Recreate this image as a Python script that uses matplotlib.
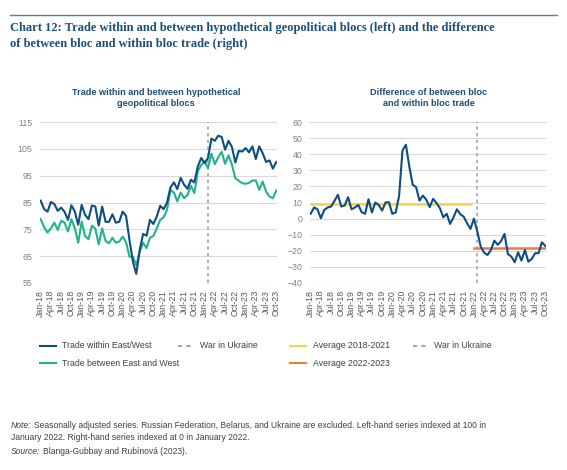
import matplotlib
matplotlib.use("Agg")
import matplotlib.pyplot as plt
from matplotlib.lines import Line2D
from matplotlib import font_manager
import numpy as np
import pandas as pd

plt.rcParams['font.family'] = ['Liberation Sans', 'DejaVu Sans']

months = pd.date_range("2018-01-01", "2023-10-01", freq="MS")
month_labels = [d.strftime("%b-%y") for d in months]

within = [85.7, 82.6, 81.6, 85.2, 84.4, 81.9, 83.1, 81.5, 78.5, 84.0,
          81.6, 76.7, 84.1, 80.4, 78.8, 83.9, 83.5, 76.4, 83.5, 77.8,
          77.8, 80.6, 77.5, 77.8, 81.6, 80.0, 71.0, 63.0, 58.4, 67.3,
          73.3, 72.6, 78.5, 77.0, 79.8, 83.8, 82.5, 85.0, 90.6, 92.5,
          90.0, 94.2, 91.6, 90.1, 93.5, 92.5, 98.4, 101.6, 99.7, 101.6,
          108.8, 108.0, 109.9, 109.4, 104.7, 108.0, 105.7, 99.9, 104.2, 104.0,
          105.3, 103.7, 105.9, 101.2, 105.9, 103.4, 100.1, 100.7, 97.6, 100.1]

between = [78.8, 75.8, 73.8, 75.4, 77.5, 74.8, 78.2, 77.5, 74.2, 78.8,
           75.4, 70.0, 77.9, 72.5, 71.3, 76.4, 75.3, 69.4, 75.4, 70.7,
           69.8, 71.9, 70.0, 70.4, 72.3, 70.2, 64.8, 64.8, 61.7, 66.7,
           70.0, 68.0, 71.9, 72.5, 75.4, 78.5, 79.5, 82.3, 89.7, 88.7,
           85.4, 88.7, 86.6, 87.8, 91.2, 88.5, 96.6, 99.0, 100.3, 97.8,
           103.2, 99.3, 101.9, 103.9, 99.4, 102.6, 99.1, 94.1, 93.1, 92.2,
           92.0, 92.3, 93.2, 93.2, 89.7, 92.8, 89.1, 87.2, 86.6, 89.5]

difference = [3.0, 6.9, 5.8, 0.2, 5.4, 6.9, 7.5, 11.0, 14.8, 7.5,
              8.1, 13.3, 5.8, 6.9, 8.5, 4.0, 3.0, 12.1, 3.8, 10.0,
              8.5, 5.0, 10.0, 10.2, 3.0, 3.8, 14.1, 42.4, 45.9, 32.4,
              21.0, 19.5, 11.2, 14.3, 11.7, 7.1, 12.3, 9.6, 6.5, 0.8,
              3.0, -3.3, 0.8, 5.8, 2.7, 1.2, -2.9, -6.4, 0.0, -8.0,
              -17.4, -21.1, -22.6, -19.5, -13.7, -16.3, -13.9, -9.5, -22.0, -23.6,
              -27.1, -20.9, -26.1, -19.5, -26.7, -25.1, -21.5, -21.5, -14.7, -17.0]

avg_2018_2021 = 9.1
avg_2022_2023 = -18.4
war_month = "Feb-22"

BLUE = "#0f4c81"
GREEN = "#23b28e"
YELLOW = "#f6d44c"
ORANGE = "#f07e32"
DASH = "#a6a6a6"
GRID = "#d9d9d9"
TITLE = "#1d4e7c"
TICK = "#595959"
TXT = "#404040"

W, H = 567, 470
fig = plt.figure(figsize=(W/100, H/100), dpi=100)
renderer = fig.canvas.get_renderer()

def fit_text(t, target_w):
    bb = t.get_window_extent(renderer=renderer)
    t.set_fontsize(t.get_fontsize() * target_w / bb.width)

def ax_rect(x0, y0, x1, y1):
    return [x0/W, 1 - y1/H, (x1-x0)/W, (y1-y0)/H]

# top rule
fig.add_artist(Line2D([10/W, 557/W], [1-15/H, 1-15/H], color="#4a7fb3", lw=1.0))
names = {f.name for f in font_manager.fontManager.ttflist}
tfam = "Liberation Serif" if "Liberation Serif" in names else "DejaVu Serif"
t1 = fig.text(10/W, 1-28/H, "Chart 12: Trade within and between hypothetical geopolitical blocs (left) and the difference",
              fontsize=9.5, fontweight="bold", color=TITLE, va="center", ha="left", family=[tfam])
fit_text(t1, 490)
fig.text(10/W, 1-43.5/H, "of between bloc and within bloc trade (right)",
         fontsize=t1.get_fontsize(), fontweight="bold", color=TITLE, va="center", ha="left", family=[tfam])

x = np.arange(len(months))
war_idx = month_labels.index(war_month)
tick_pos = x[::3]
tick_lab = [month_labels[i] for i in tick_pos]

def style(ax, ylim, yticks):
    ax.set_xlim(-0.2, len(x) - 0.8)
    ax.set_ylim(*ylim)
    ax.set_yticks(yticks)
    ax.set_xticks(tick_pos)
    ax.set_xticklabels(tick_lab, rotation=90, fontsize=6.3, color=TICK)
    ax.tick_params(axis="y", labelsize=6.3, labelcolor="#808080", length=0, pad=5.5)
    ax.tick_params(axis="x", length=0, pad=5)
    for s in ax.spines.values():
        s.set_visible(False)
    ax.grid(axis="y", color=GRID, lw=0.8)
    ax.set_axisbelow(True)
    ax.axvline(war_idx, color=DASH, lw=1.2, ls=(0, (2, 2)))

# left
axL = fig.add_axes(ax_rect(40, 122, 277, 283))
style(axL, (55, 115), np.arange(55, 116, 10))
axL.plot(x, between, color=GREEN, lw=1.5)
axL.plot(x, within, color=BLUE, lw=1.5)
fig.text(156/W, 1-98/H, "Trade within and between hypothetical\ngeopolitical blocs", ha="center", va="center",
         fontsize=6.6, fontweight="bold", color=TITLE, linespacing=1.3)

# right
axR = fig.add_axes(ax_rect(310, 122, 546, 283))
style(axR, (-40, 60), np.arange(-40, 61, 10))
pre = x[x < 48]
post = x[x >= 48]
axR.plot([pre[0], pre[-1]], [avg_2018_2021]*2, color=YELLOW, lw=1.8)
axR.plot([post[0], post[-1]], [avg_2022_2023]*2, color=ORANGE, lw=1.8)
axR.plot(x, difference, color=BLUE, lw=1.5)
fig.text(429/W, 1-98/H, "Difference of between bloc\nand within bloc trade", ha="center", va="center",
         fontsize=6.6, fontweight="bold", color=TITLE, linespacing=1.3)

# legends
def leg_item(x0, x1, tx, y, color, label, dashed=False):
    ls = (0, (2, 2)) if dashed else "-"
    fig.add_artist(Line2D([x0/W, x1/W], [1-y/H, 1-y/H], color=color, lw=1.5, ls=ls))
    fig.text(tx/W, 1-y/H, label, fontsize=6.3, color=TXT, va="center", ha="left")

leg_item(40, 56, 62, 346, BLUE, "Trade within East/West")
leg_item(40, 56, 62, 363, GREEN, "Trade between East and West")
leg_item(178, 194, 200, 346, DASH, "War in Ukraine", dashed=True)
leg_item(290, 306, 313, 346, YELLOW, "Average 2018-2021")
leg_item(290, 306, 313, 363, ORANGE, "Average 2022-2023")
leg_item(413, 429, 434, 346, DASH, "War in Ukraine", dashed=True)

# notes
fs = 6.2
fig.text(11/W, 1-426/H, "Note:", fontsize=fs, color=TXT, va="center", style="italic")
n1 = fig.text(34/W, 1-426/H, "Seasonally adjusted series. Russian Federation, Belarus, and Ukraine are excluded. Left-hand series indexed at 100 in",
              fontsize=fs, color=TXT, va="center")
fit_text(n1, 453)
fig.text(11/W, 1-438/H, "January 2022. Right-hand series indexed at 0 in January 2022.", fontsize=n1.get_fontsize(), color=TXT, va="center")
fig.text(11/W, 1-452/H, "Source:", fontsize=n1.get_fontsize(), color=TXT, va="center", style="italic")
fig.text(43/W, 1-452/H, "Blanga-Gubbay and Rubínová (2023).", fontsize=n1.get_fontsize(), color=TXT, va="center")

fig.savefig("out.png", dpi=100, facecolor="white")
